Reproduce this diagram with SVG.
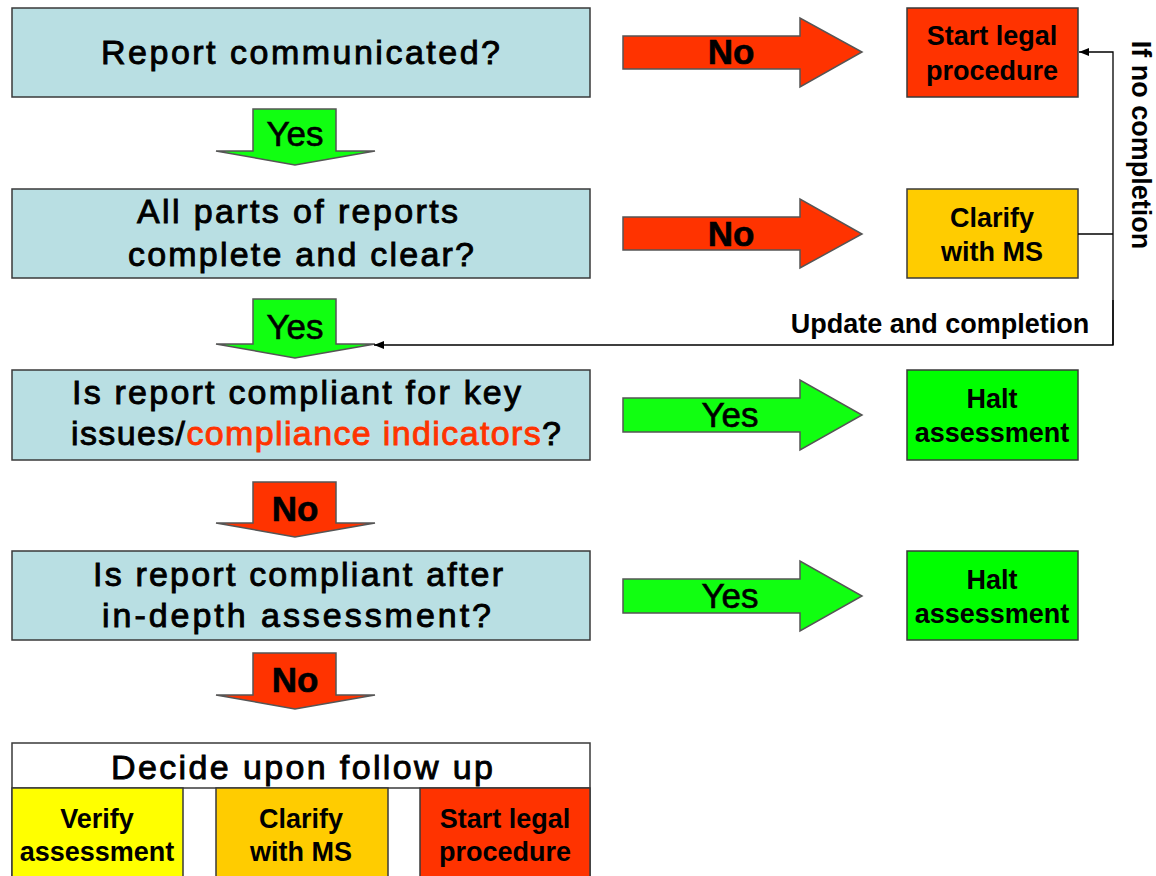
<svg xmlns="http://www.w3.org/2000/svg" width="1156" height="876" viewBox="0 0 1156 876">
<defs>
<style>
.q{fill:#B9DFE3;stroke:#3a3a3a;stroke-width:1.5}
.qt{font-family:"Liberation Sans",Arial,sans-serif;font-size:34px;fill:#000;stroke:#000;stroke-width:0.9}
.bt{font-family:"Liberation Sans",Arial,sans-serif;font-size:27px;font-weight:bold;fill:#000;text-anchor:middle}
.at{font-family:"Liberation Sans",Arial,sans-serif;font-size:35px;fill:#000;text-anchor:middle;stroke:#000;stroke-width:0.6}
.red{fill:#FF3300;stroke:#3a3a3a;stroke-width:1.5}
.grn{fill:#00FF00;stroke:#3a3a3a;stroke-width:1.5}
.org{fill:#FFCC00;stroke:#3a3a3a;stroke-width:1.5}
.yel{fill:#FFFF00;stroke:#3a3a3a;stroke-width:1.5}
.ga{fill:#11FF11;stroke:#555;stroke-width:1.5}
.ra{fill:#FF3300;stroke:#555;stroke-width:1.5}
.conn{fill:none;stroke:#000;stroke-width:1.3}
</style>
<marker id="ah" viewBox="0 0 10 10" refX="10" refY="5" markerWidth="10" markerHeight="10" markerUnits="userSpaceOnUse" orient="auto">
<path d="M0,1 L10,5 L0,9 Z" fill="#000"/>
</marker>
</defs>

<g id="q1">
<rect class="q" x="12" y="8" width="578" height="89"/>
<text class="qt" x="101" y="64" textLength="399" lengthAdjust="spacing">Report communicated?</text>
</g>
<g id="q2">
<rect class="q" x="12" y="189" width="578" height="89"/>
<text class="qt" x="137" y="223" textLength="321" lengthAdjust="spacing">All parts of reports</text>
<text class="qt" x="128" y="266" textLength="346" lengthAdjust="spacing">complete and clear?</text>
</g>
<g id="q3">
<rect class="q" x="12" y="370" width="578" height="90"/>
<text class="qt" x="72" y="404" textLength="449" lengthAdjust="spacing">Is report compliant for key</text>
<text class="qt" x="71" y="445" textLength="490" lengthAdjust="spacing">issues/<tspan fill="#FF3300" stroke="#FF3300">compliance indicators</tspan>?</text>
</g>
<g id="q4">
<rect class="q" x="12" y="551" width="578" height="89"/>
<text class="qt" x="93" y="586" textLength="410" lengthAdjust="spacing">Is report compliant after</text>
<text class="qt" x="102" y="627" textLength="389" lengthAdjust="spacing">in-depth assessment?</text>
</g>

<g id="legal1">
<rect class="red" x="907" y="8" width="171" height="89"/>
<text class="bt" x="992" y="45">Start legal</text>
<text class="bt" x="992" y="80">procedure</text>
</g>
<g id="clarify1">
<rect class="org" x="907" y="189" width="171" height="89"/>
<text class="bt" x="992" y="227">Clarify</text>
<text class="bt" x="992" y="261">with MS</text>
</g>
<g id="halt1">
<rect class="grn" x="907" y="370" width="171" height="90"/>
<text class="bt" x="992" y="408">Halt</text>
<text class="bt" x="992" y="442">assessment</text>
</g>
<g id="halt2">
<rect class="grn" x="907" y="551" width="171" height="89"/>
<text class="bt" x="992" y="589">Halt</text>
<text class="bt" x="992" y="623">assessment</text>
</g>

<g id="followup">
<rect x="12" y="743" width="578" height="140" fill="#fff" stroke="#3a3a3a" stroke-width="1.5"/>
<text class="qt" x="111" y="779" textLength="382" lengthAdjust="spacing">Decide upon follow up</text>
<line x1="12" y1="788" x2="590" y2="788" stroke="#3a3a3a" stroke-width="1.5"/>
<rect class="yel" x="12" y="788" width="171" height="95"/>
<text class="bt" x="97" y="828">Verify</text>
<text class="bt" x="97" y="861">assessment</text>
<rect class="org" x="216" y="788" width="172" height="95"/>
<text class="bt" x="301" y="828">Clarify</text>
<text class="bt" x="301" y="861">with MS</text>
<rect class="red" x="420" y="788" width="170" height="95"/>
<text class="bt" x="505" y="828">Start legal</text>
<text class="bt" x="505" y="861">procedure</text>
</g>

<g id="arrows">
<g id="rarrow1">
<path class="ra" d="M623,36 H800 V18 L862,52 L800,87 V69 H623 Z"/>
<text class="at" x="731" y="64" font-weight="bold" stroke-width="0">No</text>
</g>
<g id="rarrow2">
<path class="ra" d="M623,217 H800 V199 L862,234 L800,268 V250 H623 Z"/>
<text class="at" x="731" y="246" font-weight="bold" stroke-width="0">No</text>
</g>
<g id="rarrow3">
<path class="ga" d="M623,398 H800 V380 L862,415 L800,450 V432 H623 Z"/>
<text class="at" x="730" y="427">Yes</text>
</g>
<g id="rarrow4">
<path class="ga" d="M623,579 H800 V561 L862,596 L800,631 V613 H623 Z"/>
<text class="at" x="730" y="608">Yes</text>
</g>
<g id="darrow1">
<path class="ga" d="M253,109 H336 V151 H375 L295,165 L216,151 H253 Z"/>
<text class="at" x="295" y="146">Yes</text>
</g>
<g id="darrow2">
<path class="ga" d="M253,299 H336 V344 H375 L295,358 L216,344 H253 Z"/>
<text class="at" x="295" y="339">Yes</text>
</g>
<g id="darrow3">
<path class="ra" d="M253,482 H336 V523 H375 L295,537 L216,523 H253 Z"/>
<text class="at" x="295" y="521" font-weight="bold" stroke-width="0">No</text>
</g>
<g id="darrow4">
<path class="ra" d="M253,653 H336 V695 H375 L295,709 L216,695 H253 Z"/>
<text class="at" x="295" y="692" font-weight="bold" stroke-width="0">No</text>
</g>
</g>

<g id="connectors">
<polyline class="conn" points="1078,234 1113,234"/>
<polyline class="conn" points="1113,345 1113,52 1079,52" marker-end="url(#ah)"/>
<polyline class="conn" points="1113,300 1113,345 374,345" marker-end="url(#ah)"/>
<text class="bt" x="940" y="333">Update and completion</text>
<text class="bt" x="0" y="0" transform="translate(1132,145) rotate(90)">If no completion</text>
</g>
</svg>
